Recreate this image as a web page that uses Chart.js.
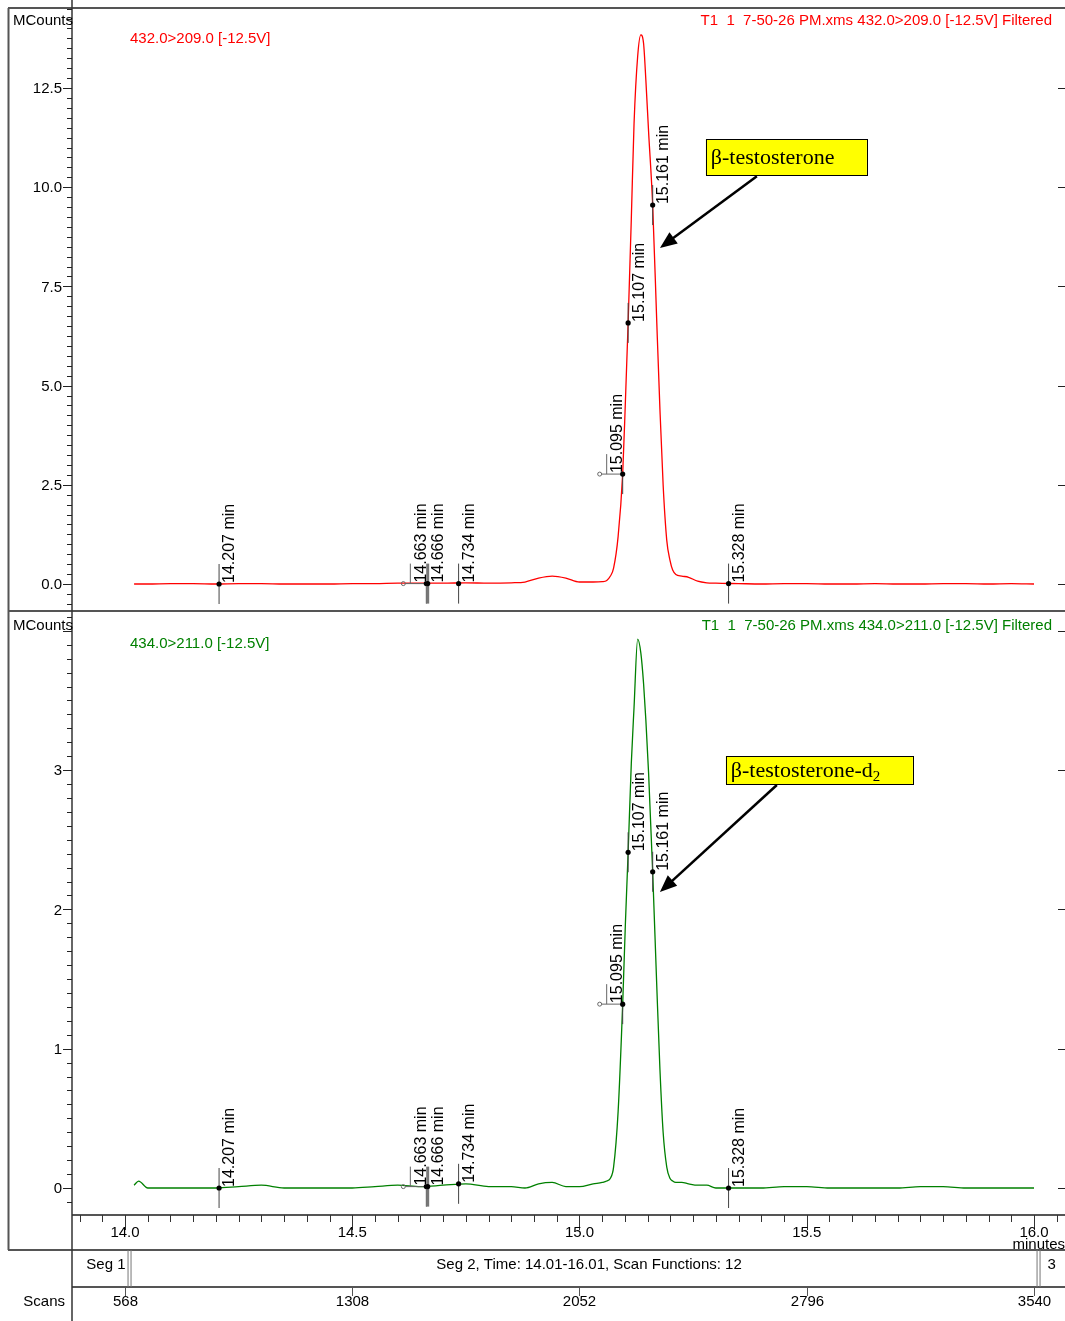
<!DOCTYPE html>
<html>
<head>
<meta charset="utf-8">
<script src="https://cdn.jsdelivr.net/npm/chart.js@4.4.1/dist/chart.umd.min.js"></script>
<style>
  html, body { margin: 0; padding: 0; background: #fff; }
  #wrap { position: relative; width: 1065px; height: 1321px; }
  canvas { position: absolute; left: 0; }
  #cTop { top: 0; }
  #cBot { top: 612px; }
</style>
</head>
<body>
<div id="wrap">
  <canvas id="cTop" width="1065" height="612"></canvas>
  <canvas id="cBot" width="1065" height="709"></canvas>
</div>
<script>
const times = [
  14.02, 14.03, 14.05, 14.10, 14.15, 14.20, 14.25, 14.30, 14.35, 14.40,
  14.45, 14.50, 14.55, 14.60, 14.65, 14.70, 14.75, 14.80, 14.85, 14.88,
  14.91, 14.94, 14.97, 15.00, 15.03, 15.05, 15.060, 15.068, 15.075, 15.085,
  15.095, 15.101, 15.107, 15.114, 15.120, 15.128, 15.135, 15.141, 15.146, 15.152,
  15.161, 15.170, 15.177, 15.184, 15.192, 15.199, 15.205, 15.212, 15.225, 15.240,
  15.26, 15.28, 15.30, 15.35, 15.40, 15.45, 15.50, 15.55, 15.60, 15.65,
  15.70, 15.75, 15.80, 15.85, 15.90, 15.95, 16.00
];
const counts432 = [
  0.00, 0.00, 0.00, 0.01, 0.01, 0.00, 0.01, 0.01, 0.00, 0.00,
  0.00, 0.01, 0.01, 0.02, 0.02, 0.02, 0.03, 0.02, 0.03, 0.05,
  0.15, 0.20, 0.15, 0.05, 0.05, 0.06, 0.09, 0.20, 0.40, 1.20,
  2.77, 4.60, 6.58, 9.20, 11.6, 13.3, 13.84, 13.62, 12.7, 11.4,
  9.55, 6.60, 4.40, 2.50, 1.10, 0.60, 0.35, 0.24, 0.20, 0.17,
  0.07, 0.03, 0.02, 0.01, 0.00, 0.01, 0.01, 0.00, 0.00, 0.01,
  0.00, 0.00, 0.01, 0.01, 0.00, 0.01, 0.00
];
const counts434 = [
  0.02, 0.05, 0.00, 0.00, 0.00, 0.00, 0.01, 0.02, 0.00, 0.00,
  0.00, 0.00, 0.01, 0.02, 0.01, 0.02, 0.03, 0.01, 0.01, 0.00,
  0.03, 0.04, 0.01, 0.01, 0.03, 0.04, 0.05, 0.07, 0.15, 0.55,
  1.32, 1.90, 2.41, 3.05, 3.45, 3.94, 3.84, 3.62, 3.36, 2.98,
  2.27, 1.45, 0.85, 0.40, 0.15, 0.07, 0.05, 0.04, 0.04, 0.03,
  0.02, 0.02, 0.00, 0.00, 0.00, 0.01, 0.01, 0.00, 0.00, 0.00,
  0.00, 0.01, 0.01, 0.00, 0.00, 0.00, 0.00
];

// marcas de picos integrados
const markerTimes = [14.207, 14.663, 14.666, 14.734, 15.095, 15.107, 15.161, 15.328];
const markers432 = [0.00, 0.01, 0.01, 0.01, 2.77, 6.58, 9.55, 0.01];
const markers434 = [0.00, 0.01, 0.01, 0.03, 1.32, 2.41, 2.27, 0.00];

// ejes
const yTicks432 = [0, 2.5, 5, 7.5, 10, 12.5];
const yTicks434 = [0, 1, 2, 3, 4];
const xTicks = [14.0, 14.5, 15.0, 15.5, 16.0];
const scanTicks = [568, 1308, 2052, 2796, 3540];
const segBounds = [14.01, 16.01];

const X_MIN = 13.8834, X_MAX = 16.0682;
const F = '"Liberation Sans", Arial, sans-serif';
const SERIF = '"Liberation Serif", "Times New Roman", serif';

function seg(ctx, x1, y1, x2, y2) {
  ctx.beginPath(); ctx.moveTo(x1, y1); ctx.lineTo(x2, y2); ctx.stroke();
}

const chromoDeco = {
  id: 'chromoDeco',
  afterDraw(chart, args, o) {
    const ctx = chart.ctx;
    const xs = chart.scales.x, ys = chart.scales.y, a = chart.chartArea;
    const W = chart.width, H = chart.height;
    ctx.save();

    // marco
    ctx.strokeStyle = '#555'; ctx.lineWidth = 2;
    if (o.panel === 'top') {
      seg(ctx, 8, 8, W, 8);
      seg(ctx, 8, H - 1, W, H - 1);
      seg(ctx, 8.5, 8, 8.5, H);
    } else {
      seg(ctx, 8.5, 0, 8.5, 638);
      seg(ctx, 8, 638, W, 638);
      seg(ctx, a.left, 675, W, 675);
      seg(ctx, a.left, a.bottom, W, a.bottom);
    }
    ctx.strokeStyle = '#333'; ctx.lineWidth = 1.5;
    seg(ctx, a.left, 0, a.left, H);

    // marcas del eje Y
    ctx.strokeStyle = '#222'; ctx.lineWidth = 1;
    const n0 = Math.ceil(ys.min / o.minor), n1 = Math.floor(ys.max / o.minor);
    for (let k = n0; k <= n1; k++) {
      const v = k * o.minor;
      const y = Math.round(ys.getPixelForValue(v)) + 0.5;
      const major = o.yTicks.some(t => Math.abs(t - v) < 1e-6);
      seg(ctx, a.left - (major ? 9 : 5), y, a.left, y);
      if (major) seg(ctx, a.right - 7, y, a.right, y);
    }
    ctx.fillStyle = '#000'; ctx.font = '15px ' + F;
    ctx.textAlign = 'right'; ctx.textBaseline = 'middle';
    o.yTicks.forEach(v => {
      if (!o.hideLabels.includes(v)) ctx.fillText(v.toFixed(o.dec), a.left - 10, ys.getPixelForValue(v) + 1);
    });

    // encabezados
    ctx.textAlign = 'left';
    ctx.fillText('MCounts', 13, a.top + o.headY);
    ctx.fillStyle = o.color;
    ctx.fillText(o.title, 130, a.top + o.headY + 18);
    ctx.textAlign = 'right';
    ctx.fillText(o.file, 1052, a.top + o.headY);

    // marcas de picos
    ctx.font = '16px ' + F;
    o.mTimes.forEach((t, i) => {
      const x = xs.getPixelForValue(t), y = ys.getPixelForValue(o.mVals[i]);
      const thick = o.thick.includes(t);
      ctx.strokeStyle = thick ? '#777' : '#444';
      ctx.lineWidth = thick ? 3 : 1;
      let tx = x;
      if (o.shifted.includes(t)) {
        seg(ctx, x, y, x, y + 20);
        tx = x - 16;
        ctx.lineWidth = 1; ctx.strokeStyle = '#666';
        seg(ctx, x - 21, y, x, y);
        seg(ctx, tx, y - 20, tx, y);
        ctx.beginPath(); ctx.arc(x - 23, y, 2, 0, 2 * Math.PI); ctx.stroke();
      } else {
        seg(ctx, x, y - 20, x, y + 20);
      }
      ctx.fillStyle = '#000';
      ctx.beginPath(); ctx.arc(x, y, 2.6, 0, 2 * Math.PI); ctx.fill();
      ctx.save();
      ctx.translate(tx + 3, y - 1);
      ctx.rotate(-Math.PI / 2);
      ctx.textAlign = 'left'; ctx.textBaseline = 'top';
      ctx.fillText(t.toFixed(3) + ' min', 0, 0);
      ctx.restore();
    });

    // recuadro amarillo con flecha
    const c = o.callout;
    const bx = xs.getPixelForValue(c.boxT), by = ys.getPixelForValue(c.boxV);
    ctx.fillStyle = '#ffff00'; ctx.fillRect(bx, by, c.w, c.h);
    ctx.strokeStyle = '#000'; ctx.lineWidth = 1;
    ctx.strokeRect(Math.round(bx) + 0.5, Math.round(by) + 0.5, c.w, c.h);
    ctx.fillStyle = '#000'; ctx.font = '22px ' + SERIF;
    ctx.textAlign = 'left'; ctx.textBaseline = 'alphabetic';
    ctx.fillText(c.text, bx + 5, by + c.h / 2 + 7);
    if (c.sub) {
      const w = ctx.measureText(c.text).width;
      ctx.font = '15px ' + SERIF;
      ctx.fillText(c.sub, bx + 5 + w, by + c.h / 2 + 11);
    }
    const x0 = bx + 51, y0 = by + c.h + 1;
    const x1 = xs.getPixelForValue(c.tipT), y1 = ys.getPixelForValue(c.tipV);
    const ang = Math.atan2(y1 - y0, x1 - x0), L = 17, hw = 7;
    ctx.lineWidth = 2.5;
    seg(ctx, x0, y0, x1 - Math.cos(ang) * L * 0.8, y1 - Math.sin(ang) * L * 0.8);
    ctx.beginPath(); ctx.moveTo(x1, y1);
    ctx.lineTo(x1 - L * Math.cos(ang) + hw * Math.sin(ang), y1 - L * Math.sin(ang) - hw * Math.cos(ang));
    ctx.lineTo(x1 - L * Math.cos(ang) - hw * Math.sin(ang), y1 - L * Math.sin(ang) + hw * Math.cos(ang));
    ctx.closePath(); ctx.fill();

    // eje X, segmentos y scans (solo abajo)
    if (o.panel === 'bottom') {
      ctx.strokeStyle = '#333'; ctx.lineWidth = 1;
      const m0 = Math.ceil(xs.min / 0.05), m1 = Math.floor(xs.max / 0.05);
      for (let k = m0; k <= m1; k++) {
        const v = k * 0.05, x = Math.round(xs.getPixelForValue(v)) + 0.5;
        const major = xTicks.some(t => Math.abs(t - v) < 1e-6);
        seg(ctx, x, a.bottom, x, a.bottom + (major ? 15 : 7));
      }
      ctx.font = '15px ' + F; ctx.fillStyle = '#000';
      ctx.textAlign = 'center'; ctx.textBaseline = 'middle';
      xTicks.forEach(v => ctx.fillText(v.toFixed(1), xs.getPixelForValue(v), a.bottom + 18));
      ctx.textAlign = 'right';
      ctx.fillText('minutes', W, a.bottom + 30);

      ctx.strokeStyle = '#777'; ctx.lineWidth = 1;
      const sx = segBounds.map(t => xs.getPixelForValue(t));
      sx.forEach(x => { seg(ctx, x - 1.5, 638, x - 1.5, 675); seg(ctx, x + 1.5, 638, x + 1.5, 675); });
      ctx.fillStyle = '#000';
      ctx.textAlign = 'right';
      ctx.fillText('Seg 1', sx[0] - 4, 653);
      ctx.textAlign = 'center';
      ctx.fillText('Seg 2, Time: 14.01-16.01, Scan Functions: 12', (sx[0] + sx[1]) / 2 + 5, 653);
      ctx.fillText('3', (sx[1] + W) / 2, 653);

      ctx.strokeStyle = '#555';
      ctx.textAlign = 'right';
      ctx.fillText('Scans', 65, 690);
      ctx.textAlign = 'center';
      xTicks.forEach((t, i) => {
        const x = Math.round(xs.getPixelForValue(t)) + 0.5;
        seg(ctx, x, 675, x, 684);
        ctx.fillText(String(scanTicks[i]), x, 690);
      });
    }
    ctx.restore();
  }
};

function makeChart(id, counts, color, yMin, yMax, pad, deco) {
  return new Chart(document.getElementById(id), {
    type: 'line',
    data: {
      datasets: [{
        data: times.map((t, i) => ({ x: t, y: counts[i] })),
        borderColor: color,
        borderWidth: 1.3,
        pointRadius: 0,
        cubicInterpolationMode: 'monotone',
        fill: false
      }]
    },
    options: {
      responsive: false,
      animation: false,
      layout: { padding: pad },
      scales: {
        x: { type: 'linear', display: false, min: X_MIN, max: X_MAX },
        y: { type: 'linear', display: false, min: yMin, max: yMax }
      },
      plugins: {
        legend: { display: false },
        tooltip: { enabled: false },
        chromoDeco: deco
      }
    },
    plugins: [chromoDeco]
  });
}

// Gráfica superior: 432.0>209.0
let topChart = makeChart('cTop', counts432, '#ff0000', -0.7056, 14.516,
  { left: 72, top: 8, right: 0, bottom: 0 },
  {
    panel: 'top', color: '#ff0000', minor: 0.25, dec: 1, headY: 13,
    yTicks: yTicks432, hideLabels: [],
    title: '432.0>209.0 [-12.5V]',
    file: 'T1  1  7-50-26 PM.xms 432.0>209.0 [-12.5V] Filtered',
    mTimes: markerTimes, mVals: markers432, shifted: [14.663, 15.095], thick: [14.666],
    callout: { text: 'β-testosterone', boxT: 15.278, boxV: 11.21, w: 161, h: 36, tipT: 15.177, tipV: 8.47 }
  });

// Gráfica inferior: 434.0>211.0
let bottomChart = makeChart('cBot', counts434, '#008000', -0.1938, 4.135,
  { left: 72, top: 0, right: 0, bottom: 106 },
  {
    panel: 'bottom', color: '#008000', minor: 0.1, dec: 0, headY: 14,
    yTicks: yTicks434, hideLabels: [4],
    title: '434.0>211.0 [-12.5V]',
    file: 'T1  1  7-50-26 PM.xms 434.0>211.0 [-12.5V] Filtered',
    mTimes: markerTimes, mVals: markers434, shifted: [14.663, 15.095], thick: [14.666],
    callout: { text: 'β-testosterone-d', sub: '2', boxT: 15.322, boxV: 3.101, w: 187, h: 28, tipT: 15.177, tipV: 2.125 }
  });
</script>
</body>
</html>
